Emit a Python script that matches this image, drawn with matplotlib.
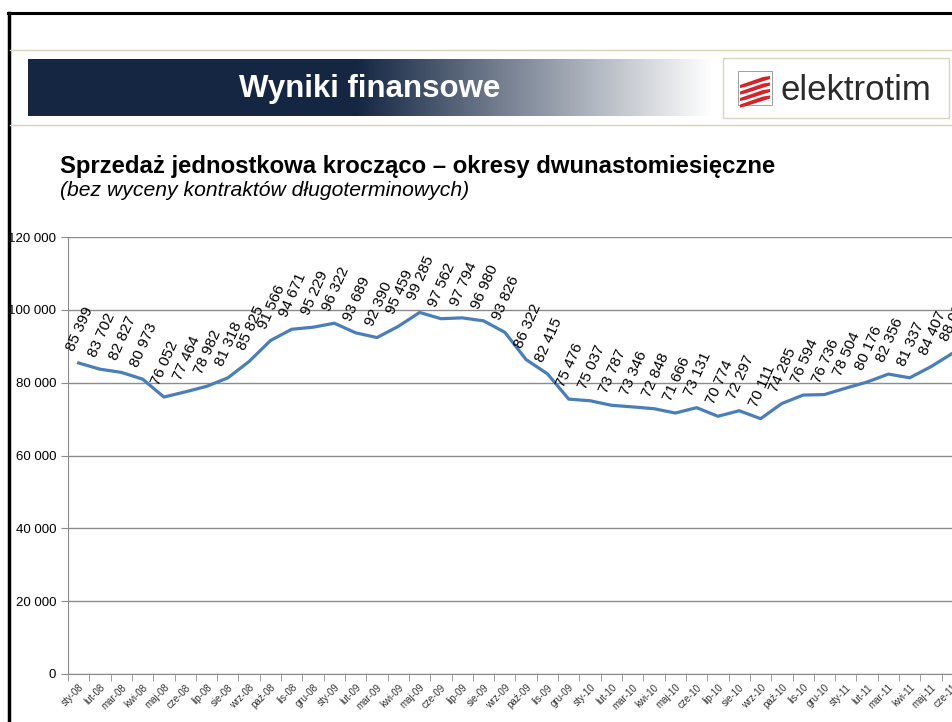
"""
Sprzedaz jednostkowa kroczaco - okresy dwunastomiesieczne
"""

import numpy as np
import matplotlib.pyplot as plt
from matplotlib.patches import Rectangle, Polygon

plt.rcParams['font.family'] = ['Liberation Sans', 'DejaVu Sans']

months = ["sty", "lut", "mar", "kwi", "maj", "cze",
          "lip", "sie", "wrz", "paź", "lis", "gru"]
labels = [f"{m}-{y}" for y in ["08", "09", "10"] for m in months] + \
         [f"{m}-11" for m in months[:6]]

sales_2008 = [85399, 83702, 82827, 80973, 76052, 77464,
              78982, 81318, 85825, 91566, 94671, 95229]
sales_2009 = [96322, 93689, 92390, 95459, 99285, 97562,
              97794, 96980, 93826, 86322, 82415, 75476]
sales_2010 = [75037, 73787, 73346, 72848, 71666, 73131,
              70774, 72297, 70111, 74285, 76594, 76736]
sales_2011 = [78504, 80176, 82356, 81337, 84407, 88032]
sales = sales_2008 + sales_2009 + sales_2010 + sales_2011

y_ticks = [0, 20000, 40000, 60000, 80000, 100000, 120000]


def fmt(v):
    return f"{v:,}".replace(",", " ")


W, H = 952, 722
fig = plt.figure(figsize=(W / 100, H / 100), dpi=100)

# slide decorations in pixel coordinates
deco = fig.add_axes([0, 0, 1, 1])
deco.set_xlim(0, W)
deco.set_ylim(H, 0)
deco.axis("off")

deco.plot([8, W], [13, 13], color="black", lw=2.2)
deco.plot([9, 9], [13, H], color="black", lw=2.5)
deco.plot([10, W], [50, 50], color="#d8d2b8", lw=1)
deco.plot([10, W], [125, 125], color="#d8d2b8", lw=1)

# banner with gradient
grad = np.linspace(0, 1, 400)
navy = np.array([0.08, 0.15, 0.26])
t = np.clip((grad - 0.48) / 0.52, 0, 1)[None, :, None]
img = navy * (1 - t) + np.array([1.0, 1.0, 1.0]) * t
deco.imshow(img, extent=[28, 712, 116, 59], aspect="auto", zorder=1)
deco.text(370, 89, "Wyniki finansowe", color="white", fontsize=22.5,
          fontweight="bold", ha="center", va="center", zorder=2)

# logo box
deco.add_patch(Rectangle((723, 58), 226, 60, facecolor="white",
                         edgecolor="#d8d4c4", lw=1, zorder=1))
deco.add_patch(Rectangle((738, 71), 34, 34, facecolor="white",
                         edgecolor="#a0a0a0", lw=0.7, zorder=2))
for k in range(4):
    y0 = 77 + k * 6.5
    deco.add_patch(Polygon([[740, y0 + 8], [763, y0], [770, y0 - 1],
                            [770, y0 + 2], [745, y0 + 10], [740, y0 + 11]],
                           closed=True, facecolor="#d8222a", edgecolor="none",
                           zorder=3))
deco.text(781, 90, "elektrotim", color="#2b2b2b", fontsize=25,
          ha="left", va="center", zorder=2)

deco.text(60, 167, "Sprzedaż jednostkowa krocząco – okresy dwunastomiesięczne",
          fontsize=17.2, fontweight="bold", ha="left", va="center")
deco.text(60, 190, "(bez wyceny kontraktów długoterminowych)",
          fontsize=15.2, fontstyle="italic", ha="left", va="center")

# chart
left, right, top, bottom = 68, 963, 237, 674
ax = fig.add_axes([left / W, (H - bottom) / H, (right - left) / W,
                   (bottom - top) / H])
ax.set_facecolor("none")
x = np.arange(len(sales))
ax.plot(x, sales, color="#4a7ebb", lw=2.3, clip_on=False, zorder=3)
ax.set_xlim(-0.5, len(sales) - 0.5)
ax.set_ylim(0, 120000)

for xi, v in zip(x, sales):
    ax.annotate(fmt(v), (xi, v), xytext=(1, 7), textcoords="offset points",
                rotation=66, ha="center", va="bottom", fontsize=11,
                annotation_clip=False)

ax.set_yticks(y_ticks)
ax.set_yticklabels([fmt(v) for v in y_ticks], fontsize=9.5)
ax.yaxis.grid(True, color="#8c8c8c", lw=1)
ax.set_axisbelow(True)
ax.set_xticks(np.arange(len(sales) + 1) - 0.5, minor=True)
ax.set_xticks(x)
ax.set_xticklabels(labels, rotation=45, ha="right", rotation_mode="anchor",
                   fontsize=7, color="#333333")
ax.tick_params(axis="x", which="major", length=0, pad=6)
ax.tick_params(axis="x", which="minor", length=5, color="#8c8c8c")
ax.tick_params(axis="y", length=5, color="#8c8c8c")
for s in ["top", "right"]:
    ax.spines[s].set_visible(False)
for s in ["left", "bottom"]:
    ax.spines[s].set_color("#8c8c8c")

fig.savefig("out.png", dpi=100)
